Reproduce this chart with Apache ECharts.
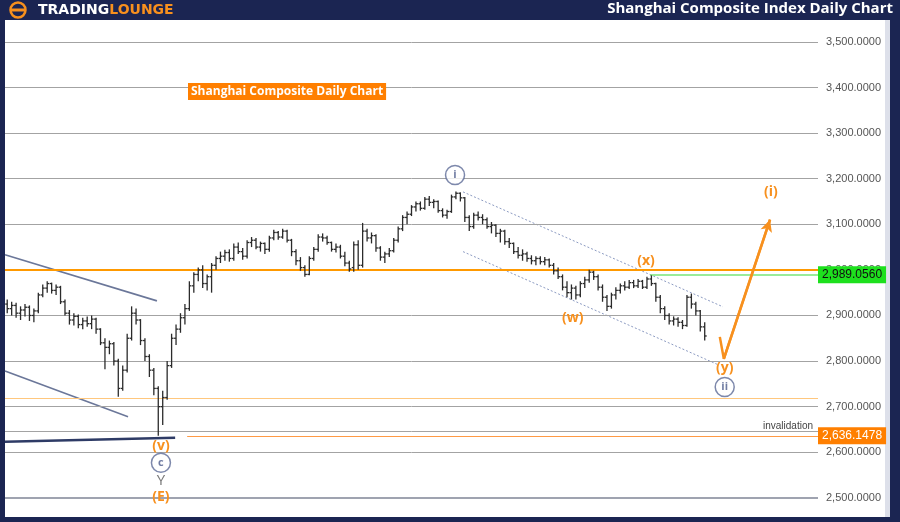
<!DOCTYPE html>
<html><head><meta charset="utf-8">
<script src="https://cdn.jsdelivr.net/npm/echarts@6/dist/echarts.min.js"></script>
<style>html,body{margin:0;padding:0;background:#1b2552;}#c{width:900px;height:522px;}</style>
</head><body><div id="c"></div>
<script>
// ---- data (bar index 0..157) ----
const opens = [
2925,2915,2922,2905,2912,2918,2900,2910,2945,2960,
2970,2955,2962,2930,2905,2890,2898,2880,2888,2882,
2892,2870,2840,2830,2838,2800,2740,2780,2850,2905,
2890,2845,2810,2780,2740,2700,2720,2790,2850,2870,
2895,2915,2965,2990,3000,2970,2985,3010,3025,3030,
3038,3025,3050,3040,3030,3060,3065,3050,3058,3045,
3070,3082,3072,3085,3065,3040,3020,3005,2990,3025,
3045,3072,3070,3060,3045,3050,3030,3015,3005,3055,
3010,3085,3070,3075,3048,3028,3035,3042,3065,3090,
3115,3122,3138,3145,3135,3155,3148,3150,3130,3120,
3128,3160,3168,3158,3115,3095,3120,3115,3110,3095,
3098,3080,3085,3062,3058,3040,3032,3035,3025,3020,
3025,3018,3022,3010,2998,2985,2962,2950,2960,2945,
2970,2978,2995,2985,2962,2940,2920,2945,2955,2965,
2962,2972,2965,2975,2962,2980,2970,2940,2915,2900,
2888,2892,2885,2878,2940,2925,2910,2875];
const highs = [
2935,2930,2928,2920,2925,2922,2915,2950,2968,2975,
2972,2968,2965,2935,2912,2905,2902,2895,2898,2900,
2895,2872,2850,2845,2842,2805,2790,2860,2920,2915,
2892,2850,2815,2785,2745,2735,2800,2860,2880,2905,
2925,2975,2995,3005,3010,2990,3015,3030,3040,3044,
3045,3058,3060,3048,3065,3072,3070,3062,3060,3075,
3088,3085,3090,3088,3068,3045,3028,3010,3030,3050,
3078,3080,3075,3062,3058,3055,3040,3020,3062,3065,
3103,3090,3082,3078,3052,3040,3048,3070,3095,3120,
3128,3142,3150,3150,3160,3162,3155,3152,3135,3132,
3165,3172,3170,3160,3120,3125,3128,3122,3115,3105,
3100,3090,3088,3070,3060,3050,3045,3040,3032,3030,
3030,3028,3025,3015,3005,2990,2975,2968,2965,2975,
2985,3000,2998,2990,2968,2945,2950,2962,2970,2975,
2978,2978,2980,2978,2985,2988,2972,2945,2920,2905,
2898,2896,2890,2945,2948,2930,2912,2885];
const lows = [
2905,2900,2895,2890,2898,2888,2885,2905,2940,2950,
2948,2945,2925,2900,2880,2878,2872,2870,2875,2870,
2860,2835,2782,2815,2790,2722,2735,2775,2845,2880,
2835,2800,2765,2725,2636,2660,2715,2785,2835,2862,
2880,2910,2950,2975,2960,2955,2950,3000,3015,3020,
3018,3020,3035,3022,3025,3050,3045,3040,3035,3040,
3065,3066,3068,3060,3030,3010,2998,2985,2988,3020,
3040,3062,3055,3040,3038,3025,3008,2996,2996,3000,
3005,3062,3058,3040,3020,3015,3028,3038,3060,3085,
3100,3118,3128,3130,3132,3140,3135,3125,3115,3112,
3125,3155,3150,3105,3085,3090,3108,3100,3090,3080,
3072,3060,3055,3048,3035,3025,3020,3018,3012,3010,
3012,3010,3005,2990,2980,2955,2940,2935,2935,2940,
2960,2972,2978,2955,2930,2910,2915,2935,2948,2955,
2958,2960,2960,2958,2958,2965,2930,2905,2890,2880,
2878,2875,2870,2875,2915,2900,2865,2845];
const closes = [
2915,2922,2905,2912,2918,2900,2910,2945,2960,2970,
2955,2962,2930,2905,2890,2898,2880,2888,2882,2892,
2870,2840,2830,2838,2800,2740,2780,2850,2905,2890,
2845,2810,2780,2740,2700,2720,2790,2850,2870,2895,
2915,2965,2990,3000,2970,2985,3010,3025,3030,3038,
3025,3050,3040,3030,3060,3065,3050,3058,3045,3070,
3082,3072,3085,3065,3040,3020,3005,2990,3025,3045,
3072,3070,3060,3045,3050,3030,3015,3002,3055,3010,
3085,3070,3075,3048,3028,3035,3042,3065,3090,3115,
3122,3138,3145,3135,3155,3148,3150,3130,3120,3128,
3160,3168,3158,3115,3095,3120,3115,3110,3095,3098,
3080,3085,3062,3058,3040,3032,3035,3025,3020,3025,
3018,3022,3010,2998,2985,2962,2950,2960,2945,2970,
2978,2995,2985,2962,2940,2920,2945,2955,2965,2962,
2972,2965,2975,2962,2980,2970,2940,2915,2900,2888,
2892,2885,2878,2940,2925,2910,2875,2855];

const gridLevels = [2500,2600,2700,2800,2900,3000,3100,3200,3300,3400,3500];
const resistanceLevel = 3000;
const supportLevel = 2719;
const invalidationLine = 2647;
const currentLevel = 2989.0560;
const invalidationLevel = 2636.1478;

// trend lines: [index, price]
const channelUpperLeft = [[-0.5, 3033], [33.7, 2932]];
const channelLowerLeft = [[-0.5, 2778], [27.2, 2678]];
const baseLine = [[-0.5, 2623], [37.8, 2632]];
const channelUpperRight = [[102.6, 3171], [161.1, 2919]];
const channelLowerRight = [[102.6, 3040], [160.0, 2792]];
const projection = [[160.4, 2853], [161.3, 2805], [171.7, 3110]];

// wave labels: [index, price, text]
const orangeLabels = [[171.9, 3171, '(i)'], [143.8, 3020, '(x)'], [127.3, 2895, '(w)'], [161.5, 2785, '(y)'], [34.6, 2614, '(v)'], [34.6, 2502, '(E)']];
const circledLabels = [[100.8, 3208, 'i'], [161.5, 2743, 'ii'], [34.6, 2577, 'c']];
const grayLabels = [[34.6, 2537, 'Y']];

const ORANGE = '#f7901e';
const NAVY = '#1b2552';
const fmt = v => v.toLocaleString('en-US', {minimumFractionDigits: 4, maximumFractionDigits: 4});

const bars = opens.map((o, i) => [i, o, highs[i], lows[i], closes[i]]);

const chart = echarts.init(document.getElementById('c'));
const trend = (pts, color, width, type, z) => ({
  type: 'line', data: pts, symbol: 'none', silent: true, z: z || 4,
  lineStyle: {color, width, type: type || 'solid'}
});
const textLabels = (pts, color, size, weight) => ({
  type: 'custom', z: 8, silent: true, data: pts,
  encode: {x: 0, y: 1},
  renderItem: function (params, api) {
    const p = api.coord([api.value(0), api.value(1)]);
    return {type: 'text', x: p[0], y: p[1], style: {
      text: pts[params.dataIndex][2], fill: color, fontSize: size, fontWeight: weight,
      fontFamily: 'Open Sans', align: 'center', verticalAlign: 'middle'}};
  }
});

const option = {
  backgroundColor: NAVY,
  animation: false,
  title: [
    {text: 'Shanghai Composite Index Daily Chart', right: 7, top: 1, padding: 0,
     textStyle: {color: '#fff', fontSize: 15, fontWeight: 'bold', fontFamily: 'Open Sans'}},
    {text: 'Shanghai Composite Daily Chart', left: 188, top: 83, padding: [3, 3, 2, 3], backgroundColor: '#ff7f00',
     textStyle: {color: '#fff', fontSize: 12, fontWeight: 'bold', fontFamily: 'Open Sans'}}
  ],
  graphic: [
    {type: 'rect', shape: {x: 5, y: 20, width: 880, height: 497}, style: {fill: '#fff'}, z: -10, silent: true},
    {type: 'rect', shape: {x: 885, y: 20, width: 5, height: 497}, style: {fill: '#dde0ea'}, z: -10, silent: true},
    {type: 'circle', shape: {cx: 18, cy: 10, r: 7.5}, style: {fill: 'none', stroke: ORANGE, lineWidth: 2.5}, z: 10},
    {type: 'line', shape: {x1: 11, y1: 10, x2: 25, y2: 10}, style: {stroke: ORANGE, lineWidth: 3}, z: 10},
    {type: 'text', x: 38, y: 3, z: 10, style: {text: '{a|TRADING}{b|LOUNGE}', rich: {
      a: {fill: '#fff', fontSize: 14, fontWeight: 'bold', fontFamily: 'DejaVu Sans'},
      b: {fill: ORANGE, fontSize: 14, fontWeight: 'bold', fontFamily: 'DejaVu Sans'}}}}
  ],
  grid: {left: 5, right: 82, top: 20, bottom: 5, containLabel: false},
  xAxis: {type: 'value', min: -0.5, max: 182.5, show: false},
  yAxis: {type: 'value', min: 2458, max: 3548, show: false, splitLine: {show: false}},
  series: [
    {
      type: 'line', data: [], z: 1, silent: true,
      markLine: {
        silent: true, symbol: 'none', animation: false,
        data: gridLevels.map(v => ({yAxis: v,
          lineStyle: {color: v === 2500 ? '#7f8496' : '#a3a3a3', width: v === 2500 ? 1.5 : 1, type: 'solid'},
          label: {show: true, position: 'end', distance: 8, formatter: fmt(v), color: '#555', fontSize: 11, fontFamily: 'Liberation Sans'}}))
          .concat([
            {yAxis: supportLevel, lineStyle: {color: '#ffc77d', width: 1.2, type: 'solid'}, label: {show: false}},
            {yAxis: invalidationLine, lineStyle: {color: '#a3a3a3', width: 1, type: 'solid'},
             label: {show: true, position: 'insideEndTop', formatter: 'invalidation', color: '#444', fontSize: 10, fontFamily: 'Liberation Sans', distance: 0, padding: [0, 5, 0, 0]}}
          ])
      }
    },
    {
      type: 'line', data: [], z: 5, silent: true,
      markLine: {
        silent: true, symbol: 'none', animation: false,
        data: [
          {yAxis: resistanceLevel, lineStyle: {color: '#ff9900', width: 2, type: 'solid'}, label: {show: false}},
          [{coord: [144.7, currentLevel], lineStyle: {color: '#78e678', width: 1.5, type: 'solid'},
            label: {show: true, position: 'end', distance: 0, formatter: fmt(currentLevel), backgroundColor: '#1ee01e', color: '#111', fontSize: 12, fontFamily: 'Liberation Sans', padding: [3, 4, 2, 4]}},
           {coord: [182.5, currentLevel]}],
          [{coord: [40.5, invalidationLevel], lineStyle: {color: '#ff9a45', width: 1.2, type: 'solid'},
            label: {show: true, position: 'end', distance: 0, formatter: fmt(invalidationLevel), backgroundColor: '#ff7f00', color: '#fff', fontSize: 12, fontFamily: 'Liberation Sans', padding: [3, 4, 2, 4]}},
           {coord: [182.5, invalidationLevel]}]
        ]
      }
    },
    trend(channelUpperLeft, '#6b7799', 1.6),
    trend(channelLowerLeft, '#6b7799', 1.6),
    trend(baseLine, '#2e3b66', 2.5),
    trend(channelUpperRight, '#8c9bc2', 1, [2, 2]),
    trend(channelLowerRight, '#8c9bc2', 1, [2, 2]),
    {
      type: 'custom', z: 6, silent: true,
      data: bars,
      encode: {x: 0, y: [1, 2, 3, 4]},
      renderItem: function (params, api) {
        const x = api.value(0);
        const pH = api.coord([x, api.value(2)]);
        const pL = api.coord([x, api.value(3)]);
        const pO = api.coord([x, api.value(1)]);
        const pC = api.coord([x, api.value(4)]);
        const st = {stroke: '#2b2b2b', lineWidth: 1.3};
        return {type: 'group', children: [
          {type: 'line', shape: {x1: pH[0], y1: pH[1], x2: pL[0], y2: pL[1]}, style: st},
          {type: 'line', shape: {x1: pO[0] - 2, y1: pO[1], x2: pO[0], y2: pO[1]}, style: st},
          {type: 'line', shape: {x1: pC[0], y1: pC[1], x2: pC[0] + 2, y2: pC[1]}, style: st}
        ]};
      }
    },
    {
      type: 'line', data: projection, symbol: 'none', z: 7, silent: true,
      lineStyle: {color: ORANGE, width: 2.5},
      markLine: {silent: true, symbol: ['none', 'arrow'], symbolSize: [9, 12], animation: false,
        lineStyle: {color: ORANGE, width: 2.5, type: 'solid'}, label: {show: false},
        data: [[{coord: projection[1]}, {coord: projection[2]}]]}
    },
    textLabels(orangeLabels, ORANGE, 14, 'bold'),
    textLabels(grayLabels, '#7a7a7a', 15, 'normal'),
    {
      type: 'scatter', z: 8, silent: true, symbol: 'circle', symbolSize: 19,
      itemStyle: {color: '#fff', borderColor: '#5c6a96', borderWidth: 1.5},
      data: circledLabels,
      label: {show: true, position: 'inside', formatter: p => p.data[2], color: '#4d5c8c', textBorderWidth: 0, fontSize: 11, fontFamily: 'Open Sans', fontWeight: 'bold'}
    }
  ]
};
chart.setOption(option);
</script></body></html>
